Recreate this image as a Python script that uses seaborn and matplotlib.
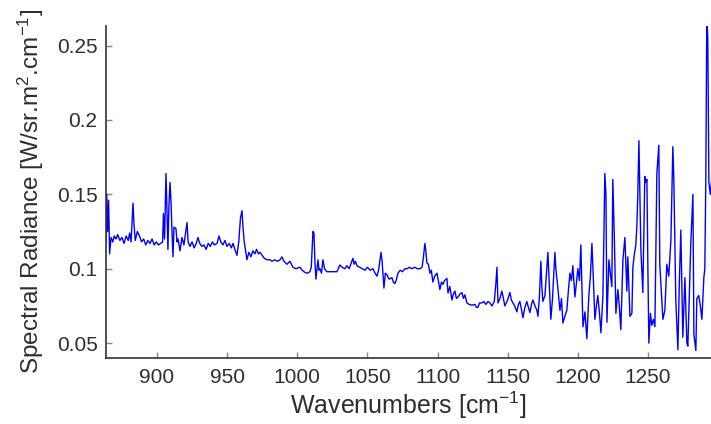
import numpy as np
import pandas as pd
import matplotlib
matplotlib.use('Agg')
import matplotlib.pyplot as plt
import seaborn as sns
from matplotlib.ticker import FuncFormatter

# 光谱数据 (波数 cm^-1, 辐亮度) — 从图上读取
wn_low = [863.6, 864.2, 864.8, 865.5, 866.2, 867.2, 868.5, 869.5, 870.8, 872, 873.5, 875,
          876.5, 878, 879.5, 880.5, 881.5, 882.9, 883.6, 884.5, 886, 887.5, 889, 890.5,
          892, 893.5, 895, 896.5, 898, 899.5, 901, 902.5, 904, 904.6, 905.4, 906.4, 907.1,
          907.8, 908.5, 909.3, 910, 910.7, 911.4, 912.1, 913.5, 914.3, 915, 916.4, 917.8,
          919.2, 920.5, 921.4, 922.2, 923.5, 925, 926.5, 928, 929.2, 930.5, 932, 933.5,
          935, 936.5, 938, 939.5, 941, 942.8, 944.2, 945.5, 947, 948.5, 949.9, 951.5, 953,
          954.2, 955.5, 957, 958.3, 959.5, 960.6, 961.3, 962.2, 963.2, 964.1, 965.5, 967,
          968.3, 969.8, 971, 972.3, 973.4, 975, 976.5, 978.4, 980.5]
rad_low = [0.118, 0.150, 0.125, 0.146, 0.110, 0.121, 0.118, 0.122, 0.120, 0.123, 0.119, 0.121,
           0.117, 0.122, 0.119, 0.124, 0.118, 0.144, 0.130, 0.119, 0.125, 0.122, 0.118, 0.120,
           0.116, 0.119, 0.117, 0.120, 0.116, 0.118, 0.116, 0.117, 0.118, 0.137, 0.120, 0.164,
           0.140, 0.113, 0.142, 0.158, 0.145, 0.125, 0.108, 0.128, 0.127, 0.118, 0.120, 0.112,
           0.121, 0.116, 0.125, 0.131, 0.118, 0.115, 0.118, 0.114, 0.117, 0.121, 0.117, 0.115,
           0.116, 0.113, 0.117, 0.115, 0.118, 0.116, 0.117, 0.122, 0.118, 0.116, 0.119, 0.115,
           0.117, 0.114, 0.117, 0.113, 0.109, 0.118, 0.134, 0.139, 0.128, 0.118, 0.112, 0.106,
           0.111, 0.108, 0.112, 0.110, 0.113, 0.110, 0.111, 0.109, 0.107, 0.106, 0.106]

wn_mid = [982, 984, 986, 987.7, 989.1, 990.5, 992.7, 994.8, 996.9, 999, 1001.9, 1003.5,
          1005.5, 1007.5, 1009, 1010, 1011.2, 1011.9, 1012.6, 1013.3, 1014.8, 1015.5, 1016.2,
          1017.3, 1018.3, 1019.5, 1021, 1023.3, 1025.5, 1028.3, 1030.4, 1032, 1034, 1035.4,
          1037, 1038.5, 1039.7, 1040.5, 1041.5, 1042.6, 1044.5, 1046.5, 1048.3, 1050, 1052,
          1054, 1055.5, 1056.8, 1058, 1059.7, 1060.5, 1061.8, 1062.8, 1063.9, 1065.5, 1067.5,
          1068.5, 1069.6, 1070.8, 1071.8, 1073.5, 1075, 1076.8, 1078.5, 1080, 1081.5, 1083.9,
          1085.5, 1087.5, 1089, 1090, 1091, 1091.7, 1092.4]
rad_mid = [0.105, 0.106, 0.105, 0.106, 0.108, 0.105, 0.103, 0.105, 0.101, 0.100, 0.101, 0.099,
           0.0975, 0.097, 0.098, 0.101, 0.125, 0.124, 0.105, 0.093, 0.106, 0.099, 0.100,
           0.097, 0.106, 0.100, 0.098, 0.098, 0.098, 0.098, 0.1025, 0.101, 0.100, 0.102,
           0.100, 0.104, 0.107, 0.103, 0.105, 0.102, 0.101, 0.100, 0.099, 0.101, 0.099,
           0.100, 0.097, 0.095, 0.099, 0.111, 0.105, 0.087, 0.097, 0.096, 0.093, 0.094,
           0.091, 0.090, 0.093, 0.097, 0.099, 0.098, 0.100, 0.100, 0.101, 0.100, 0.101,
           0.100, 0.100, 0.101, 0.108, 0.117, 0.112, 0.104]

wn_tail = [1093.5, 1094.6, 1095.6, 1096.7, 1098, 1099.6, 1100.6, 1101.7, 1102.8, 1103.9, 1105,
           1106.7, 1107.5, 1108.8, 1110.3, 1111.3, 1112.4, 1113.5, 1114.6, 1116, 1117.4,
           1118.5, 1119.5, 1121, 1122.5, 1124.5, 1126.7, 1127.8, 1128.8, 1130, 1131.7, 1133,
           1134.5, 1136, 1137.4, 1138.8, 1140.5, 1141.7, 1142.4, 1143.1, 1144.5, 1145.9, 1147,
           1148, 1150, 1151.6, 1152.7, 1153.8, 1155, 1156.6, 1157.7, 1158.7, 1159.8, 1160.9,
           1162.3, 1163.7, 1164.8, 1165.9, 1167, 1168, 1169.5, 1170.9, 1171.6, 1172.6, 1173.7,
           1174.4, 1175.1, 1176.6, 1177.6, 1178.7, 1179.7, 1180.8, 1182, 1183.7, 1184.4,
           1185.8, 1187.3, 1188.4, 1189.4, 1190.8, 1192.2, 1193.3]
rad_tail = [0.103, 0.097, 0.099, 0.091, 0.095, 0.097, 0.092, 0.086, 0.091, 0.0895, 0.092,
            0.0935, 0.0837, 0.088, 0.079, 0.083, 0.085, 0.080, 0.081, 0.083, 0.084,
            0.080, 0.0825, 0.077, 0.076, 0.0755, 0.076, 0.074, 0.074, 0.077, 0.077, 0.078,
            0.076, 0.078, 0.077, 0.075, 0.078, 0.091, 0.101, 0.077, 0.080, 0.085, 0.080,
            0.075, 0.079, 0.084, 0.079, 0.077, 0.075, 0.071, 0.076, 0.078, 0.073, 0.067,
            0.074, 0.078, 0.074, 0.0705, 0.076, 0.079, 0.075, 0.072, 0.068, 0.080, 0.105,
            0.088, 0.078, 0.082, 0.096, 0.111, 0.090, 0.066, 0.080, 0.111, 0.100,
            0.087, 0.072, 0.080, 0.0635, 0.068, 0.072, 0.085]

wn_high = [1194.4, 1195.5, 1196.5, 1198, 1199, 1200.1, 1201.2, 1202.2, 1203.7, 1205.1, 1206.5,
           1207.9, 1209, 1210.1, 1210.8, 1212.2, 1213.3, 1214.3, 1215.5, 1216.5, 1217.9,
           1218.6, 1219.3, 1220.1, 1220.8, 1222.2, 1223.2, 1224.3, 1225, 1226.1, 1227.2,
           1228.6, 1229.6, 1230.7, 1232.2, 1233.6, 1235, 1235.7, 1237.2, 1238.6, 1239.3,
           1240.4, 1241.4, 1242.1, 1242.8, 1243.6, 1244.3, 1245, 1246.4, 1247.8, 1248.5,
           1249.3, 1250, 1250.7, 1251.8, 1252.8, 1254, 1255, 1255.7, 1256.4, 1257.8, 1258.5,
           1259.6, 1260.7, 1262.1, 1263.5, 1264.9, 1266.4, 1267.8, 1268.5, 1269.2, 1269.9,
           1271.4, 1272.4, 1273.5, 1274.9, 1276.4, 1277.8, 1278.5, 1279.5, 1280.6, 1282.1,
           1282.8, 1284.2, 1284.9, 1286.3, 1287.4, 1288.5, 1289.9, 1290.6, 1291.3, 1292,
           1292.7, 1293.5, 1294.5, 1295.5]
rad_high = [0.097, 0.092, 0.102, 0.081, 0.090, 0.100, 0.092, 0.116, 0.061, 0.071, 0.053,
            0.082, 0.095, 0.117, 0.101, 0.066, 0.075, 0.082, 0.070, 0.057, 0.081,
            0.120, 0.164, 0.150, 0.064, 0.106, 0.097, 0.088, 0.160, 0.120, 0.070,
            0.086, 0.075, 0.059, 0.106, 0.121, 0.085, 0.108, 0.068, 0.070, 0.101,
            0.110, 0.116, 0.128, 0.150, 0.186, 0.150, 0.113, 0.084, 0.162, 0.158,
            0.160, 0.100, 0.050, 0.070, 0.062, 0.066, 0.061, 0.110, 0.164, 0.183, 0.103,
            0.085, 0.066, 0.072, 0.103, 0.095, 0.119, 0.182, 0.160, 0.120, 0.079,
            0.0455, 0.090, 0.126, 0.054, 0.094, 0.050, 0.048, 0.080, 0.117, 0.150,
            0.056, 0.045, 0.080, 0.082, 0.075, 0.066, 0.094, 0.100, 0.160, 0.270,
            0.255, 0.158, 0.150, 0.160]

x_ticks = [900, 950, 1000, 1050, 1100, 1150, 1200, 1250]
y_ticks = [0.05, 0.1, 0.15, 0.2, 0.25]

sns.set_style('ticks')
plt.rcParams['font.family'] = ['Liberation Sans', 'DejaVu Sans']
plt.rcParams['mathtext.default'] = 'regular'

df = pd.DataFrame({
    'wavenumber': wn_low + wn_mid + wn_tail + wn_high,
    'radiance': rad_low + rad_mid + rad_tail + rad_high,
})

text_col = '#2e2e2e'
fig = plt.figure(figsize=(7.11, 4.24), dpi=100)
ax = fig.add_axes([0.149, 0.156, 0.851, 0.783])

sns.lineplot(data=df, x='wavenumber', y='radiance', ax=ax, color='#0000ff',
             linewidth=1.0, estimator=None, sort=False)

ax.set_xlim(863.6, 1295)
ax.set_ylim(0.0401, 0.2632)
ax.set_xticks(x_ticks)
ax.set_yticks(y_ticks)
ax.yaxis.set_major_formatter(FuncFormatter(lambda v, p: f'{v:g}'))

ax.tick_params(direction='in', length=4, width=1, color='#888888',
               labelsize=15, labelcolor=text_col)
ax.tick_params(axis='x', pad=7)
ax.tick_params(axis='y', pad=6)

sns.despine(ax=ax)
for s in ['left', 'bottom']:
    ax.spines[s].set_color('#333333')
    ax.spines[s].set_linewidth(1.2)

ax.set_xlabel('Wavenumbers [cm$^{-1}$]', fontsize=18, color=text_col, labelpad=2)
ax.set_ylabel('Spectral Radiance [W/sr.m$^2$.cm$^{-1}$]', fontsize=17.5, color=text_col,
              labelpad=8)

plt.savefig('out.png', dpi=100)
